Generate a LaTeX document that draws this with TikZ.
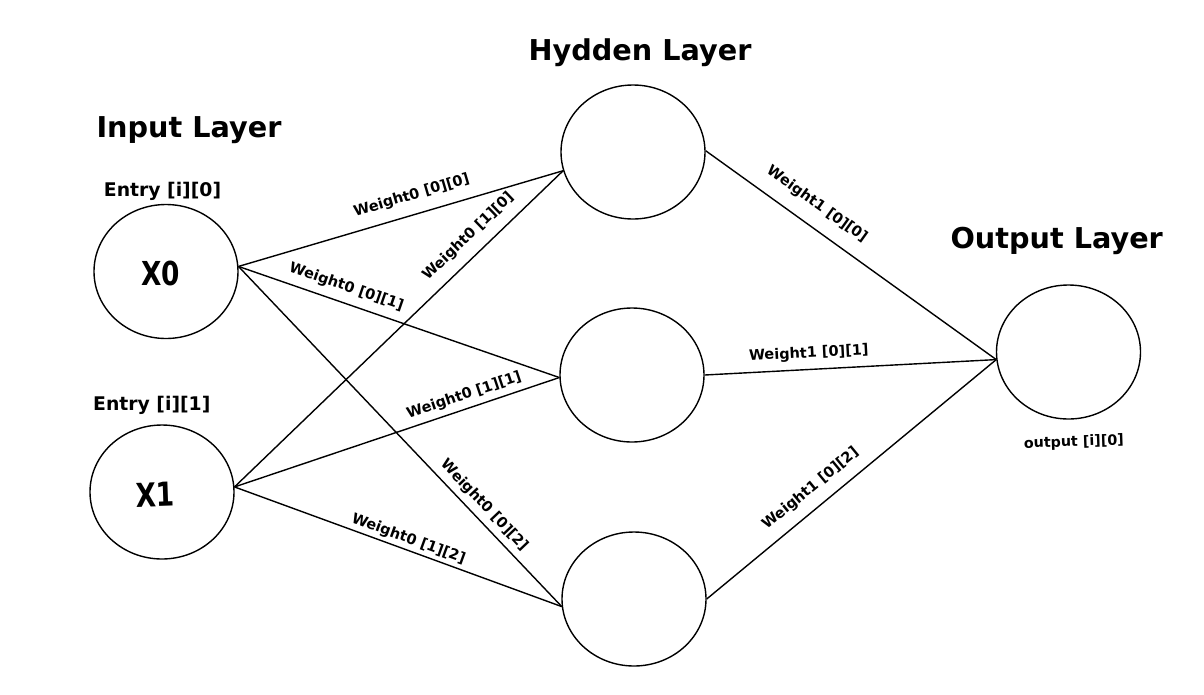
\documentclass[tikz,border=0pt]{standalone}
\usepackage{fontspec}
\usepackage{graphicx}
\setmainfont{DejaVu Sans}
\usetikzlibrary{shapes.geometric}

\begin{document}
\begin{tikzpicture}[x=1pt, y=-1pt, line width=1.4pt,
        neuron/.style={draw, ellipse, minimum width=144pt, minimum height=134pt, inner sep=0pt},
        layer/.style={anchor=base, font=\fontsize{28.7}{34}\selectfont\bfseries},
        entry/.style={anchor=base, font=\fontsize{18.8}{22}\selectfont\bfseries},
        weight/.style={sloped, anchor=south, inner sep=0pt, font=\fontsize{14.5}{17}\selectfont\bfseries}]
            \useasboundingbox (0,0) rectangle (1204,694);
            \node[neuron] (x0) at (166, 271.5) {};
            \node[neuron] (x1) at (162, 492) {};
            \node[neuron] (h0) at (633, 152) {};
            \node[neuron] (h1) at (632, 375) {};
            \node[neuron] (h2) at (634, 599) {};
            \node[neuron] (out) at (1068.5, 352) {};
            \node[layer] (inlbl) at (189, 137) {Input Layer};
            \node[layer] (hidlbl) at (640, 60.7) {Hydden Layer};
            \node[layer] (outlbl) at (1056.7, 248.3) {Output Layer};
            \node[entry] (e0) at (162.5, 196.7) {Entry [i][0]};
            \node[entry] (e1) at (151.8, 410) {Entry [i][1]};
            \node[entry, font=\fontsize{14.3}{17}\selectfont\bfseries, rotate=2] (o0) at (1074, 446.5) {output [i][0]};
            \node[anchor=base] (x0txt) at (161, 285) {\scalebox{0.8}[1]{\fontsize{33}{40}\selectfont\bfseries X0}};
            \node[anchor=base, rotate=2] (x1txt) at (156, 507) {\scalebox{0.8}[1]{\fontsize{33}{40}\selectfont\bfseries X1}};
            % input -> hidden
            \draw (x0.4) -- node[weight, pos=0.55, yshift=11pt] {Weight0 [0][0]} (h0.195);
            \draw (x1.4) -- node[weight, pos=0.75, yshift=10.5pt] {Weight0 [1][0]} (h0.195);
            \draw (x0.4) -- node[weight, pos=0.32, yshift=8pt] {Weight0 [0][1]} (h1.182);
            \draw (x1.4) -- node[weight, pos=0.72, yshift=5.5pt] {Weight0 [1][1]} (h1.182);
            \draw (x0.4) -- node[weight, pos=0.73, yshift=5.5pt] {Weight0 [0][2]} (h2.186);
            \draw (x1.4) -- node[weight, pos=0.52, yshift=3pt] {Weight0 [1][2]} (h2.186);
            % hidden -> output
            \draw (h0.1) -- node[weight, pos=0.34, yshift=13.5pt] {Weight1 [0][0]} (out.186);
            \draw (h1.east) -- node[weight, pos=0.36, yshift=8pt] {Weight1 [0][1]} (out.186);
            \draw (h2.east) -- node[weight, pos=0.40, yshift=11pt] {Weight1 [0][2]} (out.186);
        \end{tikzpicture}
\end{document}
